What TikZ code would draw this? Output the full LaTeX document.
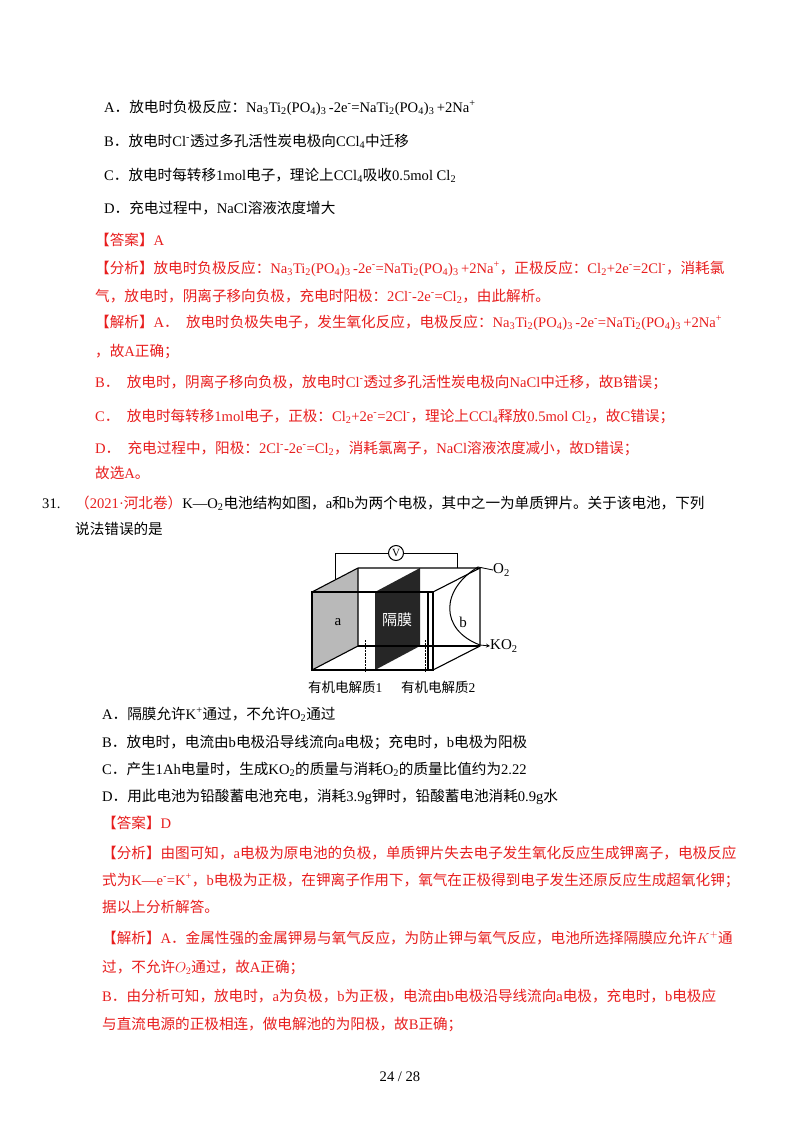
\documentclass[tikz,border=0pt]{standalone}
\usepackage{fontspec}
\setmainfont{Liberation Serif}
\newfontfamily\cjk{Noto Sans CJK SC}
\XeTeXinterchartokenstate=1
\newXeTeXintercharclass\cjkclass
\newcount\cc
\cc="4E00 \loop\XeTeXcharclass\cc=\cjkclass \advance\cc by 1 \ifnum\cc<"9FFF\repeat
\cc="3000 \loop\XeTeXcharclass\cc=\cjkclass \advance\cc by 1 \ifnum\cc<"3040\repeat
\cc="FF00 \loop\XeTeXcharclass\cc=\cjkclass \advance\cc by 1 \ifnum\cc<"FFF0\repeat
\XeTeXinterchartoks 0 \cjkclass = {\begingroup\cjk}
\XeTeXinterchartoks 4095 \cjkclass = {\begingroup\cjk}
\XeTeXinterchartoks \cjkclass 0 = {\endgroup}
\XeTeXinterchartoks \cjkclass 4095 = {\endgroup}
\newcommand\dn[1]{\textsubscript{#1}}
\newcommand\upp[1]{\textsuperscript{#1}}
\newcommand\NTP{Na\dn{3}Ti\dn{2}(PO\dn{4})\dn{3}\,-2e\upp{-}=NaTi\dn{2}(PO\dn{4})\dn{3}\,+2Na\upp{+}}
\definecolor{rd}{RGB}{232,30,30}
\begin{document}
\begin{tikzpicture}[x=1pt,y=-1pt,
  t/.style={anchor=base west,inner sep=0pt,font=\fontsize{14.6}{18}\selectfont},
  r/.style={t,text=rd},
  fig/.style={line width=1.1pt}]
\useasboundingbox[fill=white] (0,0) rectangle (800,1132);
\node[t] (a1) at (104,112) {A．放电时负极反应：\NTP};
\node[t] (b1) at (104,146) {B．放电时Cl\upp{-}透过多孔活性炭电极向CCl\dn{4}中迁移};
\node[t] (c1) at (104,180) {C．放电时每转移1mol电子，理论上CCl\dn{4}吸收0.5mol Cl\dn{2}};
\node[t] (d1) at (104,213) {D．充电过程中，NaCl溶液浓度增大};
\node[r] (e1) at (95,245) {【答案】A};
\node[r] (f1) at (95,273) {【分析】放电时负极反应：\NTP，正极反应：Cl\dn{2}+2e\upp{-}=2Cl\upp{-}，消耗氯};
\node[r] (f2) at (95,301) {气，放电时，阴离子移向负极，充电时阳极：2Cl\upp{-}-2e\upp{-}=Cl\dn{2}，由此解析。};
\node[r] (g1) at (95,327) {【解析】A．\ \ 放电时负极失电子，发生氧化反应，电极反应：\NTP};
\node[r] (g2) at (95,356) {，故A正确；};
\node[r] (g3) at (95,387) {B．\ \ 放电时，阴离子移向负极，放电时Cl\upp{-}透过多孔活性炭电极向NaCl中迁移，故B错误；};
\node[r] (g4) at (95,421) {C．\ \ 放电时每转移1mol电子，正极：Cl\dn{2}+2e\upp{-}=2Cl\upp{-}，理论上CCl\dn{4}释放0.5mol Cl\dn{2}，故C错误；};
\node[r] (g5) at (95,453) {D．\ \ 充电过程中，阳极：2Cl\upp{-}-2e\upp{-}=Cl\dn{2}，消耗氯离子，NaCl溶液浓度减小，故D错误；};
\node[r] (g6) at (95,478) {故选A。};
\node[t] (q0) at (42,508) {31.};
\node[t] (q1) at (75,508) {\textcolor{rd}{（2021·河北卷）}K—O\dn{2}电池结构如图，a和b为两个电极，其中之一为单质钾片。关于该电池，下列};
\node[t] (q2) at (75,534) {说法错误的是};
% figure
\coordinate (fl) at (312,592); \coordinate (fr) at (433,592);
\coordinate (bl) at (312,670); \coordinate (br) at (433,670);
\coordinate (kl) at (358,568); \coordinate (kr) at (480,568);
\coordinate (kbl) at (358,646); \coordinate (kbr) at (480,646);
\fill[gray!55] (fl) -- (kl) -- (kbl) -- (bl) -- cycle;
\fill[black!85] (375,592) -- (420,568) -- (420,646) -- (375,670) -- cycle;
\draw[fig] (fl) -- (fr) -- (br) -- (bl) -- cycle;
\draw[fig] (fl) -- (kl) -- (kr) -- (fr);
\draw[fig] (kr) -- (kbr) -- (br);
\draw[fig] (358,646) -- (kbr);
\draw[fig] (kl) -- (kbl) -- (bl);
\draw[fig] (428,592) -- (428,670);
\draw[densely dotted,thin] (365,640) -- (365,672);
\draw[densely dotted,thin] (425,640) -- (425,672);
\node[circle,draw,line width=1pt,minimum size=15pt,inner sep=0pt,font=\fontsize{11}{11}\selectfont] (v) at (396,553) {V};
\coordinate (wl) at (335,580); \coordinate (wr) at (457,568);
\draw[line width=0.8pt] (wl) |- (v) -| (wr);
\node[inner sep=0pt,font=\fontsize{15}{15}\selectfont] (la) at (338,622) {a};
\node[inner sep=0pt,text=white,font=\fontsize{15}{15}\selectfont] (lm) at (397,620) {隔膜};
\node[inner sep=0pt,font=\fontsize{15}{15}\selectfont] (lb) at (463,622) {b};
\draw[line width=1pt] (478,567) .. controls (440,590) and (440,630) .. (480,645);
\node[anchor=west,inner sep=0pt,font=\fontsize{15}{15}\selectfont] (o2) at (493,570) {O\dn{2}};
\draw[line width=0.8pt] (o2.west) -- (478,567);
\node[anchor=west,inner sep=0pt,font=\fontsize{15}{15}\selectfont] (ko) at (490,646) {KO\dn{2}};
\draw[line width=0.8pt,-stealth] (480,645) -- (ko.west);
\node[t,font=\fontsize{13.5}{15}\selectfont] (e1l) at (308,692) {有机电解质1};
\node[t,font=\fontsize{13.5}{15}\selectfont] (e2l) at (401,692) {有机电解质2};
% options
\node[t] (a2) at (102,719) {A．隔膜允许K\upp{+}通过，不允许O\dn{2}通过};
\node[t] (b2) at (102,747) {B．放电时，电流由b电极沿导线流向a电极；充电时，b电极为阳极};
\node[t] (c2) at (102,774) {C．产生1Ah电量时，生成KO\dn{2}的质量与消耗O\dn{2}的质量比值约为2.22};
\node[t] (d2) at (102,801) {D．用此电池为铅酸蓄电池充电，消耗3.9g钾时，铅酸蓄电池消耗0.9g水};
\node[r] (e2) at (102,828) {【答案】D};
\node[r] (h1) at (102,858) {【分析】由图可知，a电极为原电池的负极，单质钾片失去电子发生氧化反应生成钾离子，电极反应};
\node[r] (h2) at (102,885) {式为K—e\upp{-}=K\upp{+}，b电极为正极，在钾离子作用下，氧气在正极得到电子发生还原反应生成超氧化钾；};
\node[r] (h3) at (102,912) {据以上分析解答。};
\node[r] (i1) at (102,943) {【解析】A．金属性强的金属钾易与氧气反应，为防止钾与氧气反应，电池所选择隔膜应允许$K^+$通};
\node[r] (i2) at (102,972) {过，不允许$O_2$通过，故A正确；};
\node[r] (i3) at (102,1001) {B．由分析可知，放电时，a为负极，b为正极，电流由b电极沿导线流向a电极，充电时，b电极应};
\node[r] (i4) at (102,1029) {与直流电源的正极相连，做电解池的为阳极，故B正确；};
\node[t,anchor=base] (pg) at (400,1081) {24\ /\ 28};
\end{tikzpicture}
\end{document}
